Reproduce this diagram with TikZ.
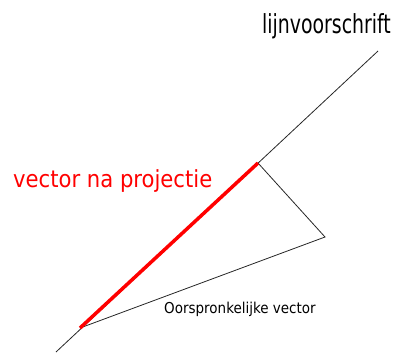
\documentclass[tikz,border=0pt]{standalone}
\usepackage{fontspec}
\setmainfont{DejaVu Sans Condensed}
\begin{document}
\begin{tikzpicture}[x=1pt, y=-1pt,
  lijn/.style={draw=black!85, line width=0.8pt},
  proj/.style={draw=red, line width=3.5pt},
  lbl/.style={inner sep=0pt, anchor=base west},
]
  \useasboundingbox (0,0) rectangle (393,354);
  % points
  \coordinate (begin) at (56,352);
  \coordinate (eind) at (378,51);
  \coordinate (oorsprong) at (80,328);
  \coordinate (voet) at (258,163);
  \coordinate (punt) at (325,237);

  % lines
  \draw[lijn] (begin) -- (eind);
  \draw[lijn] (oorsprong) -- (punt) -- (voet);
  \draw[proj] (oorsprong) -- (voet);

  % labels
  \node[lbl, font=\fontsize{21}{25}\selectfont] (titel) at (262,33) {\scalebox{1}[1.25]{lijnvoorschrift}};
  \node[lbl, text=red, font=\fontsize{23.5}{28}\selectfont] (projectie) at (13,187) {vector na projectie};
  \node[lbl, font=\fontsize{15}{18}\selectfont] (origineel) at (164,313) {Oorspronkelijke vector};
\end{tikzpicture}
\end{document}
